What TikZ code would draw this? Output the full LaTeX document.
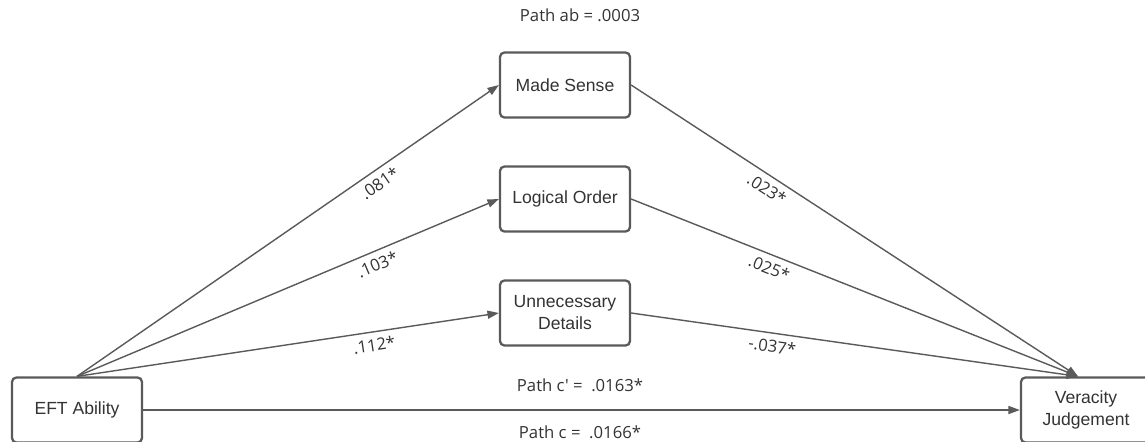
\documentclass[tikz,border=0pt]{standalone}
\usepackage{fontspec}
\setmainfont{Liberation Sans}
\newfontfamily\coeffont{Open Sans}
\usepackage{tikz}
\usetikzlibrary{arrows.meta,calc}
\definecolor{linegray}{HTML}{5A5A5A}
\definecolor{textgray}{HTML}{333333}

\tikzset{
  varbox/.style={draw=linegray, line width=1.3pt, rounded corners=2.5pt, fill=white,
    minimum width=2.6cm, minimum height=1.3cm, align=center, text=textgray,
    font=\fontsize{10}{12.5}\selectfont},
  link/.style={draw=linegray, line width=0.8pt, -{Triangle[length=6.5pt,width=4.6pt]}},
  coef/.style={text=textgray, font=\coeffont\fontsize{9.5}{11.5}\selectfont}
}

\begin{document}
\begin{tikzpicture}[x=0.02cm,y=-0.02cm]
\useasboundingbox (0,0) rectangle (1145,441);

% mediators
\node[varbox] (made) at (565,85) {Made Sense};
\node[varbox] (logic) at (565,199) {Logical Order};
\node[varbox] (detail) at (565,313) {Unnecessary\\Details};

% predictor and outcome
\node[varbox] (eft) at (77,410) {EFT Ability};
\node[varbox] (verac) at (1086,410) {Veracity\\Judgement};
\coordinate (vtop) at ($(verac.north)+(-8,0)$);

% a paths
\draw[link] (eft.north) -- node[coef, sloped, below, pos=0.7] {.081*} (made.west);
\draw[link] (eft.north) -- node[coef, sloped, below, pos=0.7] {.103*} (logic.west);
\draw[link] (eft.north) -- node[coef, sloped, below, pos=0.7] {.112*} (detail.west);

% b paths
\draw[link] (made.east) -- node[coef, sloped, below, pos=0.32] {.023*} (vtop);
\draw[link] (logic.east) -- node[coef, sloped, below, pos=0.32] {.025*} (vtop);
\draw[link] (detail.east) -- node[coef, sloped, below, pos=0.32] {-.037*} (vtop);

% direct path
\draw[link] (eft.east) -- (verac.west);

\node[coef] (ab) at (580,15) {Path ab = .0003};
\node[coef] (cdash) at (580,385) {Path c' =\ \ .0163*};
\node[coef] (ctot) at (580,432) {Path c =\ \ .0166*};
\end{tikzpicture}
\end{document}
